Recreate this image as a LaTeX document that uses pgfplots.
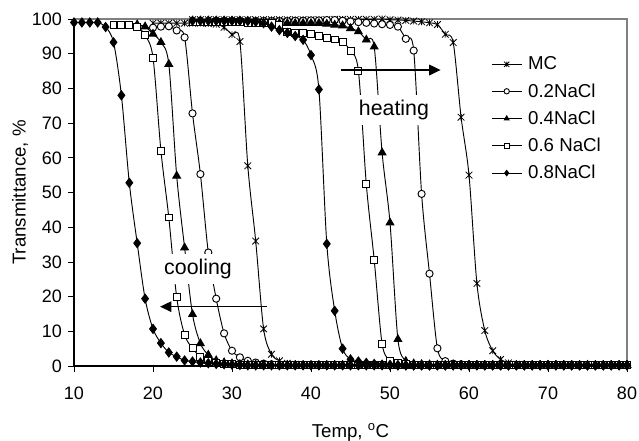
\documentclass[border=0pt]{standalone}
\usepackage{pgfplots}
\pgfplotsset{compat=1.18}
\usepackage{fontspec}
\setmainfont{Liberation Sans}
\usetikzlibrary{arrows.meta}

% Excel-style star: an x with a vertical bar through it
\pgfdeclareplotmark{xstar}{%
  \pgfpathmoveto{\pgfqpoint{-\pgfplotmarksize}{-\pgfplotmarksize}}%
  \pgfpathlineto{\pgfqpoint{\pgfplotmarksize}{\pgfplotmarksize}}%
  \pgfpathmoveto{\pgfqpoint{-\pgfplotmarksize}{\pgfplotmarksize}}%
  \pgfpathlineto{\pgfqpoint{\pgfplotmarksize}{-\pgfplotmarksize}}%
  \pgfpathmoveto{\pgfqpoint{0pt}{-\pgfplotmarksize}}%
  \pgfpathlineto{\pgfqpoint{0pt}{\pgfplotmarksize}}%
  \pgfusepathqstroke
}

\pgfplotsset{
  curve/.style={black, line width=0.7pt, smooth, tension=0.5, mark options={solid, line width=0.6pt}},
  mc/.style={curve, mark=xstar, mark size=2.5pt},
  nacla/.style={curve, mark=*, mark size=2.7pt, mark options={fill=white}},
  naclb/.style={curve, mark=triangle*, mark size=3.3pt, mark options={fill=black}},
  naclc/.style={curve, mark=square*, mark size=2.6pt, mark options={fill=white}},
  cacld/.style={curve, mark=diamond*, mark size=3.4pt, mark options={fill=black}},
}

\begin{document}
\begin{tikzpicture}
\begin{axis}[
  name=ax,
  scale only axis,
  width=414.75pt, height=260.25pt,
  xmin=10, xmax=80, ymin=0, ymax=100,
  xtick={10,20,...,80}, ytick={0,10,...,100},
  tick pos=left, tick align=outside,
  major tick length=4.5pt,
  tick style={black, line width=0.6pt},
  axis line style={draw=none},
  clip mode=individual,
  /pgf/number format/assume math mode=true,
  tick label style={font=\fontsize{13.5}{16}\selectfont},
  xticklabel style={yshift=-8pt},
  yticklabel style={xshift=-1pt},
  xlabel={Temp, \textsuperscript{o}C},
  ylabel={Transmittance, \%},
  label style={font=\fontsize{14}{16.8}\selectfont},
  x label style={at={(axis description cs:0.5,-0.19)}, anchor=center},
  y label style={at={(axis description cs:-0.0976,0.5)}, anchor=center},
  legend cell align=left,
  legend style={at={(rel axis cs:0.754,0.8977)}, anchor=north west, draw=none, fill=none,
    font=\fontsize{14}{16.8}\selectfont, row sep=5.8pt, inner sep=0pt,
    nodes={inner sep=1.5pt},
    /tikz/every odd column/.append style={column sep=3pt}},
  legend image code/.code={
    \draw[mark repeat=2, mark phase=2, #1, mark size=2pt]
      plot coordinates {(0pt,0pt) (11.25pt,0pt) (22.5pt,0pt)};},
]
% plot area border
\draw[gray, line width=0.8pt] (rel axis cs:0,1) -- (rel axis cs:1,1) -- (rel axis cs:1,0);
\draw[black, line width=0.8pt] (rel axis cs:0,1) -- (rel axis cs:0,0) -- (rel axis cs:1,0);

% MC
\addplot[mc] coordinates {(20,98.8)(21,98.8)(22,98.8)(23,98.8)(24,98.8)(25,98.8)(26,98.8)(27,98.7)(28,98.5)(29,97.6)(30,95.5)(31,93.5)(32,57.7)(33,36.0)(34,10.7)(35,3.4)(36,1.5)(37,0.8)(38,0.5)(39,0.4)(40,0.3)(41,0.2)(42,0.2)(43,0.2)(44,0.2)(45,0.2)(46,0.2)(47,0.2)(48,0.2)(49,0.2)(50,0.2)(51,0.2)(52,0.2)(53,0.2)(54,0.2)(55,0.2)(56,0.2)(57,0.2)(58,0.2)(59,0.2)(60,0.2)(61,0.2)(62,0.2)(63,0.2)(64,0.2)(65,0.2)(66,0.2)(67,0.2)(68,0.2)(69,0.2)(70,0.2)(71,0.2)(72,0.2)(73,0.2)(74,0.2)(75,0.2)(76,0.2)(77,0.2)(78,0.2)(79,0.2)(80,0.2)};
\addlegendentry{MC}
\addplot[mc, forget plot] coordinates {(25,99.8)(26,99.8)(27,99.8)(28,99.8)(29,99.8)(30,99.8)(31,99.8)(32,99.8)(33,99.8)(34,99.8)(35,99.8)(36,99.8)(37,99.8)(38,99.8)(39,99.8)(40,99.8)(41,99.8)(42,99.8)(43,99.9)(44,99.9)(45,99.9)(46,99.9)(47,99.9)(48,99.9)(49,100)(50,99.8)(51,99.7)(52,99.6)(53,99.4)(54,99.2)(55,98.9)(56,98.4)(57,95.6)(58,93.2)(59,71.7)(60,55.0)(61,23.8)(62,10.2)(63,4.4)(64,1.9)(65,0.9)(66,0.5)(67,0.4)(68,0.3)(69,0.2)(70,0.2)(71,0.2)(72,0.2)(73,0.2)(74,0.2)(75,0.2)(76,0.2)(77,0.2)(78,0.2)(79,0.2)(80,0.2)};

% 0.2NaCl
\addplot[nacla] coordinates {(20,97.5)(21,97.8)(22,97.9)(23,96.7)(24,94.7)(25,72.8)(26,55.3)(27,32.7)(28,19.4)(29,9.4)(30,4.4)(31,2.5)(32,1.5)(33,1.0)(34,0.7)(35,0.5)(36,0.4)(37,0.3)(38,0.2)(39,0.2)(40,0.2)(41,0.2)(42,0.2)(43,0.2)(44,0.2)(45,0.2)(46,0.2)(47,0.2)(48,0.2)(49,0.2)(50,0.2)(51,0.2)(52,0.2)(53,0.2)(54,0.2)(55,0.2)(56,0.2)(57,0.2)(58,0.2)(59,0.2)(60,0.2)(61,0.2)(62,0.2)(63,0.2)(64,0.2)(65,0.2)(66,0.2)(67,0.2)(68,0.2)(69,0.2)(70,0.2)(71,0.2)(72,0.2)(73,0.2)(74,0.2)(75,0.2)(76,0.2)(77,0.2)(78,0.2)(79,0.2)(80,0.2)};
\addlegendentry{0.2NaCl}
\addplot[nacla, forget plot] coordinates {(25,99.3)(26,99.3)(27,99.3)(28,99.3)(29,99.3)(30,99.3)(31,99.3)(32,99.3)(33,99.4)(34,99.4)(35,99.4)(36,99.4)(37,99.4)(38,99.5)(39,99.5)(40,99.6)(41,99.6)(42,99.7)(43,99.7)(44,99.5)(45,99.3)(46,99.1)(47,98.9)(48,98.7)(49,98.5)(50,98.3)(51,97.8)(52,94.3)(53,90.9)(54,49.6)(55,26.6)(56,5.1)(57,1.4)(58,0.7)(59,0.5)(60,0.4)(61,0.3)(62,0.2)(63,0.2)(64,0.2)(65,0.2)(66,0.2)(67,0.2)(68,0.2)(69,0.2)(70,0.2)(71,0.2)(72,0.2)(73,0.2)(74,0.2)(75,0.2)(76,0.2)(77,0.2)(78,0.2)(79,0.2)(80,0.2)};

% 0.4NaCl
\addplot[naclb] coordinates {(18,98.4)(19,97.8)(20,95.7)(21,93.3)(22,87.0)(23,54.8)(24,34.1)(25,14.9)(26,6.5)(27,3.2)(28,1.6)(29,1.0)(30,0.7)(31,0.5)(32,0.4)(33,0.3)(34,0.2)(35,0.2)(36,0.2)(37,0.2)(38,0.2)(39,0.2)(40,0.2)(41,0.2)(42,0.2)(43,0.2)(44,0.2)(45,0.2)(46,0.2)(47,0.2)(48,0.2)(49,0.2)(50,0.2)(51,0.2)(52,0.2)(53,0.2)(54,0.2)(55,0.2)(56,0.2)(57,0.2)(58,0.2)(59,0.2)(60,0.2)(61,0.2)(62,0.2)(63,0.2)(64,0.2)(65,0.2)(66,0.2)(67,0.2)(68,0.2)(69,0.2)(70,0.2)(71,0.2)(72,0.2)(73,0.2)(74,0.2)(75,0.2)(76,0.2)(77,0.2)(78,0.2)(79,0.2)(80,0.2)};
\addlegendentry{0.4NaCl}
\addplot[naclb, forget plot] coordinates {(25,98.8)(26,98.8)(27,98.8)(28,98.8)(29,98.8)(30,98.8)(31,98.8)(32,98.8)(33,98.8)(34,98.8)(35,98.8)(36,98.8)(37,98.8)(38,98.8)(39,98.8)(40,98.8)(41,98.8)(42,98.6)(43,98.3)(44,98.1)(45,97.3)(46,96.4)(47,94.0)(48,92.0)(49,61.5)(50,41.3)(51,7.7)(52,1.4)(53,0.7)(54,0.5)(55,0.4)(56,0.3)(57,0.2)(58,0.2)(59,0.2)(60,0.2)(61,0.2)(62,0.2)(63,0.2)(64,0.2)(65,0.2)(66,0.2)(67,0.2)(68,0.2)(69,0.2)(70,0.2)(71,0.2)(72,0.2)(73,0.2)(74,0.2)(75,0.2)(76,0.2)(77,0.2)(78,0.2)(79,0.2)(80,0.2)};

% 0.6 NaCl
\addplot[naclc] coordinates {(15,98.3)(16,98.3)(17,98.3)(18,97.8)(19,95.3)(20,88.9)(21,62.1)(22,42.8)(23,19.8)(24,9.0)(25,5.1)(26,2.7)(27,1.6)(28,1.0)(29,0.7)(30,0.5)(31,0.4)(32,0.3)(33,0.2)(34,0.2)(35,0.2)(36,0.2)(37,0.2)(38,0.2)(39,0.2)(40,0.2)(41,0.2)(42,0.2)(43,0.2)(44,0.2)(45,0.2)(46,0.2)(47,0.2)(48,0.2)(49,0.2)(50,0.2)(51,0.2)(52,0.2)(53,0.2)(54,0.2)(55,0.2)(56,0.2)(57,0.2)(58,0.2)(59,0.2)(60,0.2)(61,0.2)(62,0.2)(63,0.2)(64,0.2)(65,0.2)(66,0.2)(67,0.2)(68,0.2)(69,0.2)(70,0.2)(71,0.2)(72,0.2)(73,0.2)(74,0.2)(75,0.2)(76,0.2)(77,0.2)(78,0.2)(79,0.2)(80,0.2)};
\addlegendentry{0.6 NaCl}
\addplot[naclc, forget plot] coordinates {(25,99.0)(26,99.0)(27,99.0)(28,99.1)(29,99.1)(30,99.2)(31,99.1)(32,98.9)(33,98.9)(34,98.9)(35,98.9)(36,98.3)(37,96.2)(38,96.0)(39,96.0)(40,95.6)(41,95.1)(42,94.6)(43,94.1)(44,93.4)(45,90.8)(46,85.1)(47,52.4)(48,30.6)(49,6.4)(50,1.6)(51,1.0)(52,0.6)(53,0.4)(54,0.3)(55,0.2)(56,0.2)(57,0.2)(58,0.2)(59,0.2)(60,0.2)(61,0.2)(62,0.2)(63,0.2)(64,0.2)(65,0.2)(66,0.2)(67,0.2)(68,0.2)(69,0.2)(70,0.2)(71,0.2)(72,0.2)(73,0.2)(74,0.2)(75,0.2)(76,0.2)(77,0.2)(78,0.2)(79,0.2)(80,0.2)};

% 0.8NaCl
\addplot[cacld] coordinates {(10,99.0)(11,99.0)(12,99.0)(13,99.0)(14,97.7)(15,93.3)(16,78.0)(17,52.8)(18,35.4)(19,19.4)(20,10.7)(21,6.6)(22,3.9)(23,2.7)(24,1.6)(25,1.3)(26,1.0)(27,0.8)(28,0.6)(29,0.5)(30,0.4)(31,0.3)(32,0.2)(33,0.2)(34,0.2)(35,0.2)(36,0.2)(37,0.2)(38,0.2)(39,0.2)(40,0.2)(41,0.2)(42,0.2)(43,0.2)(44,0.2)(45,0.2)(46,0.2)(47,0.2)(48,0.2)(49,0.2)(50,0.2)(51,0.2)(52,0.2)(53,0.2)(54,0.2)(55,0.2)(56,0.2)(57,0.2)(58,0.2)(59,0.2)(60,0.2)(61,0.2)(62,0.2)(63,0.2)(64,0.2)(65,0.2)(66,0.2)(67,0.2)(68,0.2)(69,0.2)(70,0.2)(71,0.2)(72,0.2)(73,0.2)(74,0.2)(75,0.2)(76,0.2)(77,0.2)(78,0.2)(79,0.2)(80,0.2)};
\addlegendentry{0.8NaCl}
\addplot[cacld, forget plot] coordinates {(25,99.5)(26,99.5)(27,99.5)(28,99.5)(29,99.5)(30,99.5)(31,99.5)(32,99.4)(33,99.2)(34,98.8)(35,97.8)(36,96.8)(37,96.0)(38,95.1)(39,94.0)(40,89.6)(41,79.7)(42,35.2)(43,15.9)(44,5.0)(45,1.9)(46,1.3)(47,0.9)(48,0.6)(49,0.4)(50,0.3)(51,0.2)(52,0.2)(53,0.2)(54,0.2)(55,0.2)(56,0.2)(57,0.2)(58,0.2)(59,0.2)(60,0.2)(61,0.2)(62,0.2)(63,0.2)(64,0.2)(65,0.2)(66,0.2)(67,0.2)(68,0.2)(69,0.2)(70,0.2)(71,0.2)(72,0.2)(73,0.2)(74,0.2)(75,0.2)(76,0.2)(77,0.2)(78,0.2)(79,0.2)(80,0.2)};

% annotations
\node[fill=white, inner xsep=3pt, inner ysep=4pt, font=\fontsize{16}{19}\selectfont] at (axis cs:50.5,73.8) {heating};
\draw[line width=0.9pt, -{Triangle[length=8.5pt, width=8pt]}] (axis cs:43.8,85.3) -- (axis cs:56.4,85.3);
\node[fill=white, inner xsep=3pt, inner ysep=4pt, font=\fontsize{16}{19}\selectfont] at (axis cs:25.7,27.9) {cooling};
\draw[line width=0.7pt, -{Triangle[length=8.5pt, width=8pt]}] (axis cs:34.4,17.1) -- (axis cs:20.9,17.1);
\end{axis}
\pgfresetboundingbox
\path ([xshift=-55.5pt, yshift=-55.5pt]ax.south west) rectangle ([xshift=9pt, yshift=14.25pt]ax.north east);
\end{tikzpicture}
\end{document}
